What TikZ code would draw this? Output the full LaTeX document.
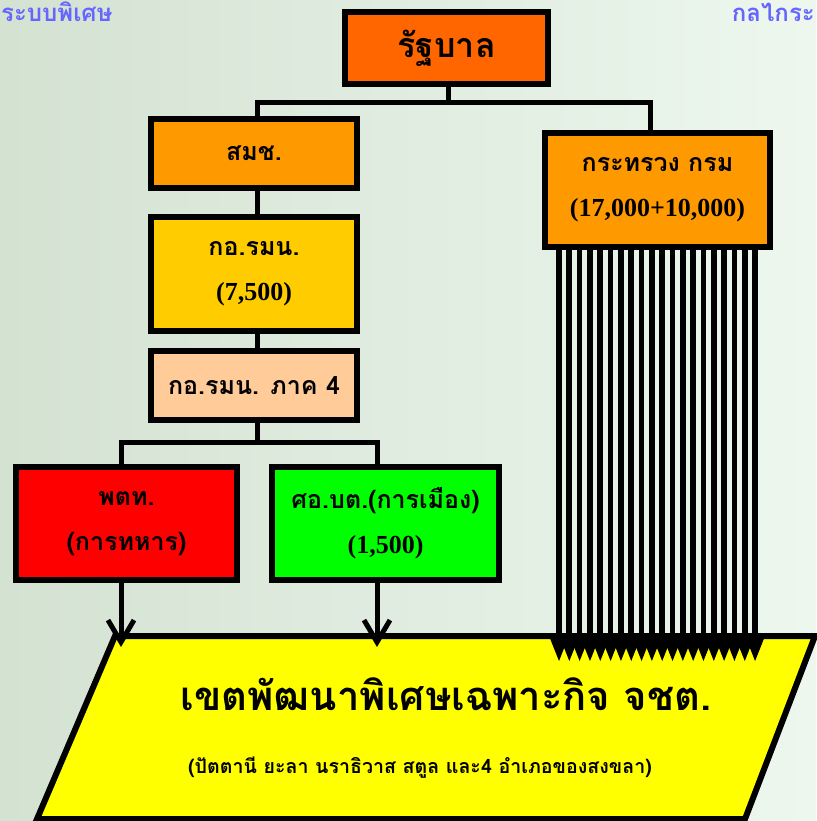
\documentclass[tikz,border=0pt]{standalone}
\usepackage{xcolor}
\usepackage{tikz}
\usepackage{fontspec}
\setmainfont{Liberation Serif}
\newfontfamily\thai[Script=Thai]{Loma}
\usetikzlibrary{arrows.meta, positioning}

\definecolor{bgleft}{RGB}{212,226,210}
\definecolor{bgright}{RGB}{237,247,238}
\definecolor{govorange}{RGB}{255,102,0}
\definecolor{deptorange}{RGB}{255,153,0}
\definecolor{isocyellow}{RGB}{255,204,0}
\definecolor{regionpeach}{RGB}{255,204,153}
\definecolor{zoneyellow}{RGB}{255,255,0}
\definecolor{titleblue}{RGB}{102,102,255}

\begin{document}
\begin{tikzpicture}[x=1pt,y=-1pt]
        \useasboundingbox (0,0) rectangle (816,821);
        \shade[left color=bgleft,right color=bgright] (0,0) rectangle (816,821);
        \begin{scope}[every node/.style={anchor=base west,inner sep=0,text=titleblue,font=\thai\bfseries\fontsize{24}{28}\selectfont}]
          \node (lefttitle) at (1,22) {ระบบพิเศษ};
          \node[anchor=base east] (righttitle) at (815,22) {กลไกระ};
        \end{scope}
        % zone
        \draw[line width=6,fill=zoneyellow] (115,636) -- (815,636) -- (745,819) -- (37,819) -- cycle;
        \node[font=\thai\bfseries\fontsize{40}{44}\selectfont] (zone) at (446,694) {เขตพัฒนาพิเศษเฉพาะกิจ จชต.};
        \node[font=\thai\bfseries\fontsize{19.6}{24}\selectfont] (provinces) at (420,768) {(ปัตตานี ยะลา นราธิวาส สตูล และ4 อำเภอของสงขลา)};
        \begin{scope}[every node/.style={draw,line width=6,inner sep=0,align=center,font=\thai\bfseries\fontsize{25}{45}\selectfont}]
          \node[fill=govorange,minimum width=203,minimum height=72,font=\thai\bfseries\fontsize{34}{40}\selectfont] (gov) at (446.5,48) {รัฐบาล};
          \node[fill=deptorange,minimum width=206,minimum height=69] (nsc) at (254,153.5) {สมช.};
          \node[fill=isocyellow,minimum width=206,minimum height=114] (isoc) at (254,274) {กอ.รมน.\\{\rmfamily\fontsize{26}{45}\selectfont (7,500)}};
          \node[fill=regionpeach,minimum width=206,minimum height=69] (region) at (254,385.5) {กอ.รมน. ภาค 4};
          \node[fill=red,minimum width=221,minimum height=113] (military) at (126.5,523.5) {พตท.\\(การทหาร)};
          \node[fill=green,minimum width=227,minimum height=113] (sbpac) at (385.5,523.5) {ศอ.บต.(การเมือง)\\{\rmfamily\fontsize{26}{45}\selectfont (1,500)}};
          \node[fill=deptorange,minimum width=225,minimum height=114] (ministry) at (657.5,190) {กระทรวง กรม\\{\rmfamily\fontsize{26}{45}\selectfont (17,000+10,000)}};
        \end{scope}
        \begin{scope}[line width=5]
          \draw ([xshift=2]gov.south) -- ++(0,16) -| ([xshift=3]nsc.north);
          \draw ([xshift=2]gov.south) -- ++(0,16) -| ([xshift=-7.5]ministry.north);
          \draw ([xshift=3]nsc.south) -- ([xshift=3]isoc.north);
          \draw ([xshift=3]isoc.south) -- ([xshift=3]region.north);
          \draw ([xshift=3]region.south) -- ++(0,19) -| ([xshift=-5.5]military.north);
          \draw ([xshift=3]region.south) -- ++(0,19) -| ([xshift=-8.5]sbpac.north);
          %\draw (region) -- (zone);
        \end{scope}
        \coordinate (miltip) at (121,647);
        \coordinate (sbpactip) at (377,647);
        \begin{scope}[line width=5,-{Straight Barb[length=22pt,width=26pt]}]
          \draw ([xshift=-5.5]military.south) -- (miltip);
          \draw ([xshift=-8.5]sbpac.south) -- (sbpactip);
        \end{scope}
        \foreach \i in {0,...,19} {
          \coordinate (tip\i) at (559+\i*10.32,662);
          \draw[line width=5.7,-{Triangle[length=26pt,width=18pt]}] (ministry.south -| tip\i) -- (tip\i);
        }
      \end{tikzpicture}
\end{document}
